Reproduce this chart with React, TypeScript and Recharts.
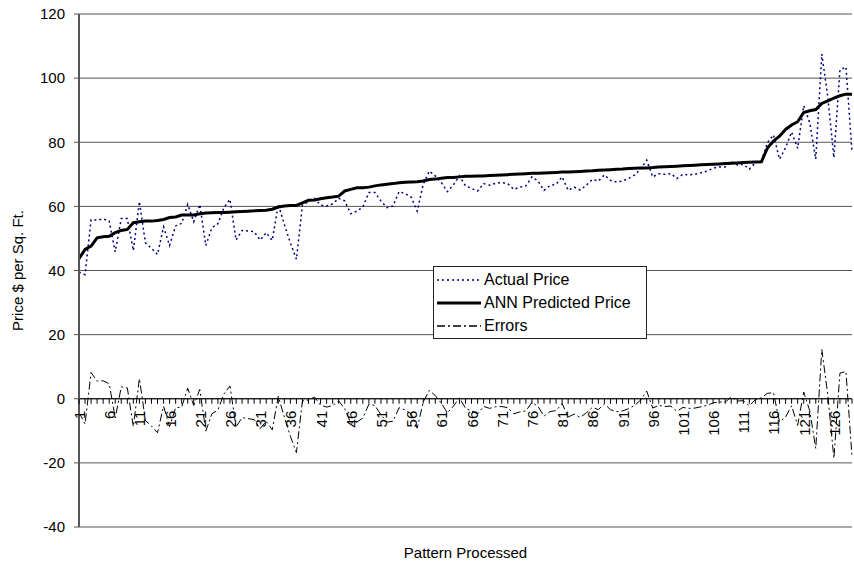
import React from 'react';
import { LineChart, Line, XAxis, YAxis, CartesianGrid, Legend, ReferenceLine } from 'recharts';

// values, one per pattern (129 patterns)
const actualPrice = [
    39.5, 38.7, 55.8, 55.7, 56.1, 55.4, 45.8, 56.2, 56.2, 46.2,
    61.5, 48.6, 46.9, 45.0, 53.6, 47.8, 53.9, 54.7, 60.6, 55.2,
    60.6, 47.8, 53.3, 54.6, 59.6, 62.2, 49.5, 52.5, 52.3, 52.1,
    49.5, 51.8, 49.4, 60.6, 54.4, 48.6, 43.5, 60.4, 61.5, 62.5,
    60.4, 60.1, 60.8, 62.5, 61.7, 57.7, 58.5, 59.8, 64.3, 64.3,
    61.7, 59.6, 60.1, 64.6, 64.0, 62.9, 58.5, 66.9, 71.0, 69.5,
    67.4, 64.6, 66.7, 69.5, 66.4, 65.6, 64.8, 67.1, 66.6, 67.2,
    67.4, 67.1, 65.3, 66.0, 66.4, 69.2, 67.9, 65.0, 66.5, 66.9,
    69.2, 65.0, 66.0, 65.1, 66.6, 68.4, 67.9, 69.8, 68.1, 67.6,
    67.9, 68.7, 69.8, 71.6, 74.4, 69.2, 70.2, 70.0, 70.2, 68.7,
    70.0, 69.8, 70.0, 70.5, 71.0, 71.9, 72.3, 72.3, 74.0, 72.9,
    73.1, 71.6, 73.6, 74.2, 79.9, 82.3, 74.7, 78.3, 83.2, 78.1,
    91.4, 86.1, 74.7, 107.5, 94.0, 75.2, 102.5, 103.5, 77.0,
];

const predictedPrice = [
    43.7, 46.6, 47.6, 50.2, 50.5, 50.7, 51.8, 52.5, 52.8, 54.9,
    55.2, 55.4, 55.4, 55.6, 55.9, 56.5, 56.7, 57.3, 57.3, 57.3,
    57.7, 57.9, 58.0, 58.1, 58.1, 58.2, 58.3, 58.4, 58.5, 58.6,
    58.75, 58.8, 59.1, 59.8, 60.1, 60.3, 60.3, 61.1, 61.9, 62.0,
    62.4, 62.7, 62.9, 63.2, 64.8, 65.3, 65.8, 65.8, 66.0, 66.4,
    66.7, 66.9, 67.1, 67.4, 67.5, 67.6, 67.7, 67.9, 68.4, 68.5,
    68.75, 69.0, 69.0, 69.2, 69.4, 69.4, 69.5, 69.5, 69.6, 69.7,
    69.8, 69.9, 70.0, 70.1, 70.2, 70.3, 70.3, 70.4, 70.5, 70.6,
    70.7, 70.7, 70.8, 70.9, 71.0, 71.1, 71.25, 71.35, 71.45, 71.55,
    71.65, 71.8, 71.9, 72.0, 72.0, 72.1, 72.25, 72.35, 72.45, 72.55,
    72.65, 72.75, 72.85, 72.95, 73.05, 73.15, 73.25, 73.35, 73.45, 73.55,
    73.65, 73.75, 73.85, 73.9, 78.2, 80.4, 81.9, 84.0, 85.4, 86.4,
    89.3, 89.8, 90.2, 92.1, 92.9, 93.75, 94.5, 95.0, 95.0,
];

const errors = [
    -4.2, -7.9, 8.2, 5.5, 5.6, 4.7, -6.0, 3.7, 3.4, -8.7,
    6.3, -6.8, -8.5, -10.6, -2.3, -8.7, -2.8, -2.6, 3.3, -2.1,
    2.9, -10.1, -4.7, -3.5, 1.5, 4.0, -8.8, -5.9, -6.2, -6.5,
    -9.3, -7.0, -9.7, 0.8, -5.7, -11.7, -16.8, -0.7, -0.4, 0.5,
    -2.0, -2.6, -2.1, -0.7, -3.1, -7.6, -7.3, -6.0, -1.7, -2.1,
    -5.0, -7.3, -7.0, -2.8, -3.5, -4.7, -9.2, -1.0, 2.6, 1.0,
    -1.4, -4.4, -2.3, 0.3, -3.0, -3.8, -4.7, -2.4, -3.0, -2.5,
    -2.4, -2.8, -4.7, -4.1, -3.8, -1.1, -2.4, -5.4, -4.0, -3.7,
    -1.5, -5.7, -4.8, -5.8, -4.4, -2.7, -3.4, -1.6, -3.4, -4.0,
    -3.8, -3.1, -2.1, -0.4, 2.4, -2.9, -2.1, -2.4, -2.3, -3.9,
    -2.7, -3.0, -2.9, -2.5, -2.1, -1.3, -1.0, -1.1, 0.6, -0.7,
    -0.6, -2.2, -0.3, 0.3, 1.7, 1.9, -7.2, -5.7, -2.2, -8.3,
    2.1, -3.7, -15.5, 15.4, 1.1, -18.6, 8.0, 8.5, -18.0,
];

const patterns = actualPrice.map((_, i) => i + 1);
const yTicks = [-40, -20, 0, 20, 40, 60, 80, 100, 120];

const FONT = '"Liberation Sans", Arial, sans-serif';
const CHART_W = 854;
const CHART_H = 562;
const MARGIN = { top: 14, right: 2, bottom: 0, left: 0 };
const Y_AXIS_W = 79;
const X_AXIS_H = 35;
const PLOT_H = CHART_H - MARGIN.top - MARGIN.bottom - X_AXIS_H;
// distance from the bottom of the plot up to the zero line (axis crosses at 0)
const ZERO_LIFT = PLOT_H * (0 - yTicks[0]) / (yTicks[yTicks.length - 1] - yTicks[0]);

const data = patterns.map((p, i) => ({
    pattern: p,
    actual: actualPrice[i],
    predicted: predictedPrice[i],
    errors: errors[i],
}));

// category tick drawn on the zero line, label every 5th pattern
const PatternTick = (props: any) => {
    const { x, y, payload } = props;
    const zeroY = y - ZERO_LIFT;
    const showLabel = (Number(payload.value) - 1) % 5 === 0;
    return (
        <g>
            <line x1={x} x2={x} y1={zeroY} y2={zeroY + 5} stroke="#000" strokeWidth={1} />
            {showLabel && (
                <text
                    transform={`translate(${x + 6},${zeroY + 12}) rotate(-90)`}
                    textAnchor="end"
                    fontSize={15}
                    fontFamily={FONT}
                    fill="#000"
                >
                    {payload.value}
                </text>
            )}
        </g>
    );
};

const legendItems = [
    { label: 'Actual Price', color: '#000080', width: 1.5, dash: '2 3' },
    { label: 'ANN Predicted Price', color: '#000', width: 3, dash: undefined },
    { label: 'Errors', color: '#000', width: 1.5, dash: '8 3 2 3' },
];

const LegendBox = () => (
    <div style={{ border: '1px solid #222', background: '#fff', width: 212, height: 70, paddingTop: 1, fontFamily: FONT, fontSize: 16, color: '#000' }}>
        {legendItems.map(item => (
            <div key={item.label} style={{ display: 'flex', alignItems: 'center', height: 23 }}>
                <svg width={46} height={10} style={{ marginLeft: 3 }}>
                    <line x1={0} x2={44} y1={5} y2={5} stroke={item.color} strokeWidth={item.width} strokeDasharray={item.dash} />
                </svg>
                <span style={{ marginLeft: 1, whiteSpace: 'nowrap' }}>{item.label}</span>
            </div>
        ))}
    </div>
);

const App: React.FC = () => {
    return (
        <div style={{ position: 'absolute', left: 0, top: 0, width: CHART_W, height: CHART_H, background: '#fff' }}>
            <LineChart width={CHART_W} height={CHART_H} data={data} margin={MARGIN} style={{ fontFamily: FONT }}>
                <CartesianGrid vertical={false} stroke="#555" strokeWidth={1} />
                <XAxis
                    dataKey="pattern"
                    height={X_AXIS_H}
                    interval={0}
                    axisLine={false}
                    tickLine={false}
                    tickSize={0}
                    tickMargin={0}
                    tick={<PatternTick />}
                    label={{
                        content: (p: any) => (
                            <text x={p.viewBox.x + p.viewBox.width / 2} y={p.viewBox.y + 31} textAnchor="middle" fontSize={15} fontFamily={FONT} fill="#000">
                                Pattern Processed
                            </text>
                        ),
                    }}
                />
                <YAxis
                    width={Y_AXIS_W}
                    domain={[yTicks[0], yTicks[yTicks.length - 1]]}
                    ticks={yTicks}
                    interval={0}
                    axisLine={{ stroke: '#555', strokeWidth: 2 }}
                    tickLine={{ stroke: '#555' }}
                    tickSize={5}
                    tickMargin={9}
                    tick={{ fontSize: 15, fill: '#000', fontFamily: FONT }}
                    label={{
                        content: (p: any) => (
                            <text
                                transform={`translate(${23},${p.viewBox.y + p.viewBox.height / 2}) rotate(-90)`}
                                textAnchor="middle"
                                fontSize={15}
                                fontFamily={FONT}
                                fill="#000"
                            >
                                Price $ per Sq. Ft.
                            </text>
                        ),
                    }}
                />
                <ReferenceLine y={0} stroke="#000" strokeWidth={1} />
                <Legend
                    layout="vertical"
                    align="center"
                    verticalAlign="middle"
                    content={<LegendBox />}
                    wrapperStyle={{ left: 433, top: 266, width: 214, height: 72 }}
                />
                <Line type="linear" dataKey="actual" name="Actual Price" stroke="#000080" strokeWidth={1.5} strokeDasharray="2 3" dot={false} isAnimationActive={false} />
                <Line type="linear" dataKey="predicted" name="ANN Predicted Price" stroke="#000" strokeWidth={3} dot={false} isAnimationActive={false} />
                <Line type="linear" dataKey="errors" name="Errors" stroke="#000" strokeWidth={1} strokeDasharray="8 3 2 3" dot={false} isAnimationActive={false} />
            </LineChart>
        </div>
    );
};

export default App;
